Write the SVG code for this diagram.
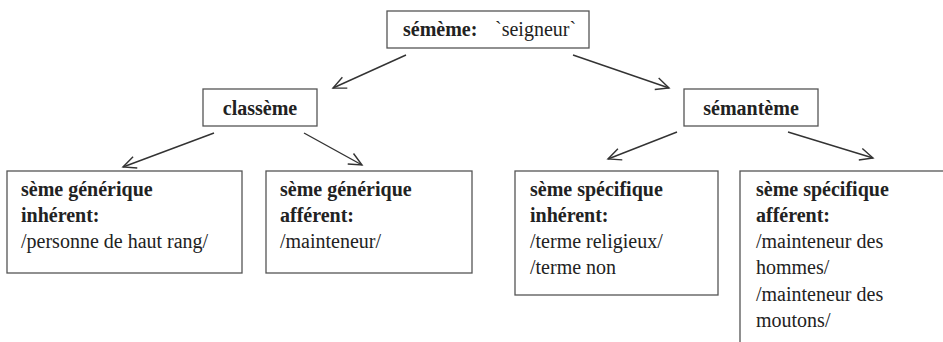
<svg xmlns="http://www.w3.org/2000/svg" width="943" height="342" viewBox="0 0 943 342">
<style>
  .box { fill: #ffffff; stroke: #555555; stroke-width: 1.3; }
  .t { font-family: "Liberation Serif", "Times New Roman", serif; font-size: 20px; fill: #222222; }
  .b { font-weight: bold; }
  .c { text-anchor: middle; }
  .edge { stroke: #333333; stroke-width: 1.4; fill: none; marker-end: url(#arr); }
</style>
<defs>
  <marker id="arr" markerUnits="userSpaceOnUse" markerWidth="16" markerHeight="16" viewBox="0 0 16 16" refX="14" refY="8" orient="auto">
    <path d="M1,2 L14,8 L1,14" fill="none" stroke="#333333" stroke-width="1.4"/>
  </marker>
</defs>
<rect width="943" height="342" fill="#ffffff"/>
<g id="connectors">
  <line class="edge" x1="406" y1="55" x2="333" y2="88"/>
  <line class="edge" x1="573" y1="55" x2="669" y2="88"/>
  <line class="edge" x1="214" y1="133" x2="123" y2="167"/>
  <line class="edge" x1="304" y1="133" x2="362" y2="165"/>
  <line class="edge" x1="677" y1="132" x2="608" y2="159"/>
  <line class="edge" x1="788" y1="132" x2="873" y2="158"/>
</g>
<g id="sememe">
  <rect class="box" x="387" y="11" width="202" height="37"/>
  <text class="t b" x="403" y="36">sémème:</text>
  <text class="t" x="495" y="36">`seigneur`</text>
</g>
<g id="classeme">
  <rect class="box" x="203" y="89" width="114" height="37"/>
  <text class="t b c" x="260" y="115">classème</text>
</g>
<g id="semanteme">
  <rect class="box" x="684" y="89" width="134" height="37"/>
  <text class="t b c" x="751" y="115">sémantème</text>
</g>
<g id="generique-inherent">
  <rect class="box" x="7" y="171" width="235" height="102"/>
  <text class="t b" x="21" y="196">sème générique</text>
  <text class="t b" x="21" y="222">inhérent:</text>
  <text class="t" x="21" y="248">/personne de haut rang/</text>
</g>
<g id="generique-afferent">
  <rect class="box" x="266" y="171" width="206" height="102"/>
  <text class="t b" x="280" y="196">sème générique</text>
  <text class="t b" x="280" y="222">afférent:</text>
  <text class="t" x="280" y="248">/mainteneur/</text>
</g>
<g id="specifique-inherent">
  <rect class="box" x="515" y="171" width="203" height="124"/>
  <text class="t b" x="530" y="196">sème spécifique</text>
  <text class="t b" x="530" y="222">inhérent:</text>
  <text class="t" x="530" y="248">/terme religieux/</text>
  <text class="t" x="530" y="274">/terme non</text>
</g>
<g id="specifique-afferent">
  <rect class="box" x="740" y="171" width="230" height="200"/>
  <text class="t b" x="756" y="196">sème spécifique</text>
  <text class="t b" x="756" y="222">afférent:</text>
  <text class="t" x="756" y="248">/mainteneur des</text>
  <text class="t" x="756" y="274">hommes/</text>
  <text class="t" x="756" y="301">/mainteneur des</text>
  <text class="t" x="756" y="327">moutons/</text>
</g>
</svg>
